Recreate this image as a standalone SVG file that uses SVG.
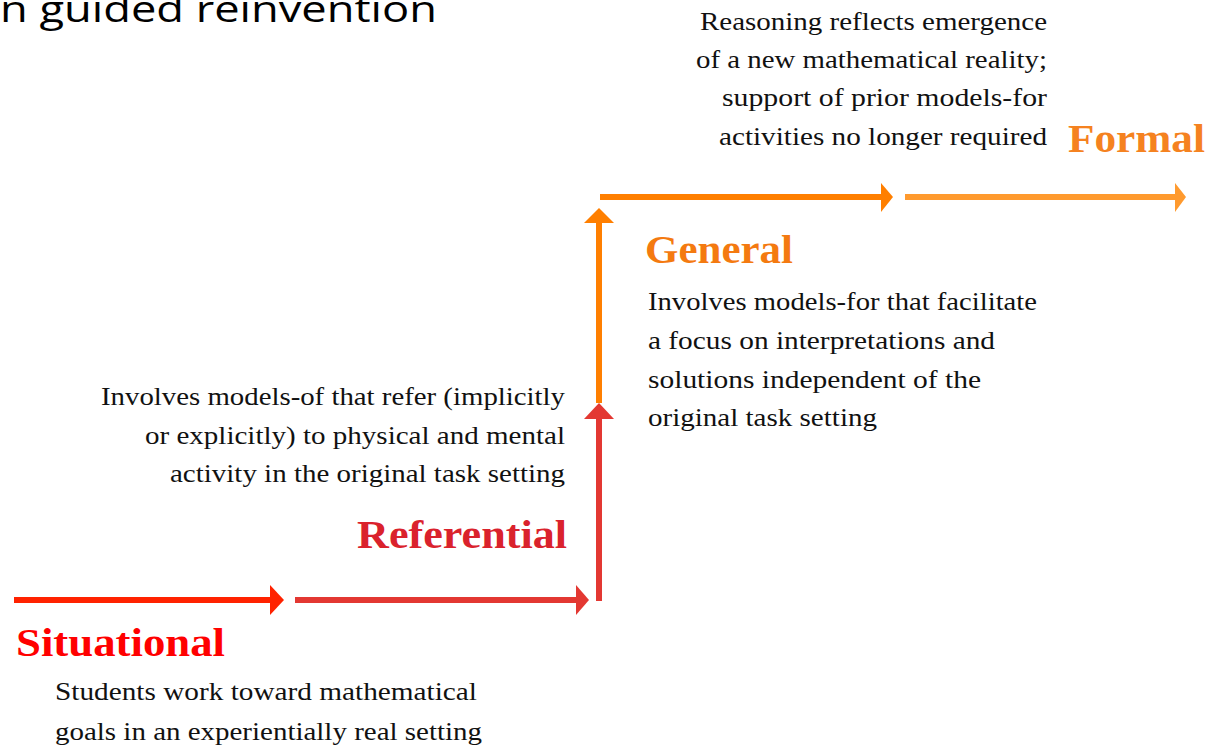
<svg xmlns="http://www.w3.org/2000/svg" width="1208" height="749" viewBox="0 0 1208 749">
<style>
.body{font-family:"Liberation Serif","Times New Roman",serif;font-size:25px;fill:#111111}
.head{font-family:"Liberation Serif","Times New Roman",serif;font-weight:bold;font-size:39px}
.title{font-family:"Open Sans","Liberation Sans",sans-serif;font-size:36px;fill:#000}
.r{text-anchor:end}
</style>
<rect width="1208" height="749" fill="#ffffff"/>
<text class="title" x="0" y="22" textLength="437" lengthAdjust="spacingAndGlyphs">n guided reinvention</text>
<g id="connectors">
  <rect x="14" y="597" width="257" height="6" fill="#FF2200"/>
  <polygon points="270,585 284,600 270,615" fill="#FF2200"/>
  <rect x="295" y="597" width="282" height="6" fill="#E33832"/>
  <polygon points="576,585 589,600 576,615" fill="#E33832"/>
  <rect x="596" y="418" width="6" height="183" fill="#E33832"/>
  <polygon points="584,419 599,403 614,419" fill="#E33832"/>
  <rect x="596" y="221" width="6" height="182" fill="#FF7F00"/>
  <polygon points="584,223 599,208 614,223" fill="#FF7F00"/>
  <rect x="600" y="194" width="282" height="6" fill="#FF7F00"/>
  <polygon points="881,183 893,197 881,212" fill="#FF7F00"/>
  <rect x="905" y="194" width="271" height="6" fill="#FF9A2E"/>
  <polygon points="1175,183 1186,197 1175,212" fill="#FF9A2E"/>
</g>
<g id="situational">
  <text class="head" x="16" y="656" fill="#FF0000" textLength="209" lengthAdjust="spacingAndGlyphs">Situational</text>
  <text class="body" x="55" y="700" textLength="422" lengthAdjust="spacingAndGlyphs">Students work toward mathematical</text>
  <text class="body" x="55" y="740" textLength="427" lengthAdjust="spacingAndGlyphs">goals in an experientially real setting</text>
</g>
<g id="referential">
  <text class="head" x="357" y="548" fill="#DA222C" textLength="210" lengthAdjust="spacingAndGlyphs">Referential</text>
  <text class="body" x="101" y="405" textLength="464" lengthAdjust="spacingAndGlyphs">Involves models-of that refer (implicitly</text>
  <text class="body" x="145" y="444" textLength="420" lengthAdjust="spacingAndGlyphs">or explicitly) to physical and mental</text>
  <text class="body" x="170" y="482" textLength="395" lengthAdjust="spacingAndGlyphs">activity in the original task setting</text>
</g>
<g id="general">
  <text class="head" x="645" y="263" fill="#F47A10" textLength="148" lengthAdjust="spacingAndGlyphs">General</text>
  <text class="body" x="648" y="310" textLength="389" lengthAdjust="spacingAndGlyphs">Involves models-for that facilitate</text>
  <text class="body" x="648" y="349" textLength="347" lengthAdjust="spacingAndGlyphs">a focus on interpretations and</text>
  <text class="body" x="648" y="388" textLength="333" lengthAdjust="spacingAndGlyphs">solutions independent of the</text>
  <text class="body" x="648" y="426" textLength="229" lengthAdjust="spacingAndGlyphs">original task setting</text>
</g>
<g id="formal">
  <text class="head" x="1068" y="152" fill="#F58220" textLength="137" lengthAdjust="spacingAndGlyphs">Formal</text>
  <text class="body" x="700" y="30" textLength="347" lengthAdjust="spacingAndGlyphs">Reasoning reflects emergence</text>
  <text class="body" x="696" y="68" textLength="351" lengthAdjust="spacingAndGlyphs">of a new mathematical reality;</text>
  <text class="body" x="722" y="106" textLength="325" lengthAdjust="spacingAndGlyphs">support of prior models-for</text>
  <text class="body" x="719" y="145" textLength="328" lengthAdjust="spacingAndGlyphs">activities no longer required</text>
</g>
</svg>
